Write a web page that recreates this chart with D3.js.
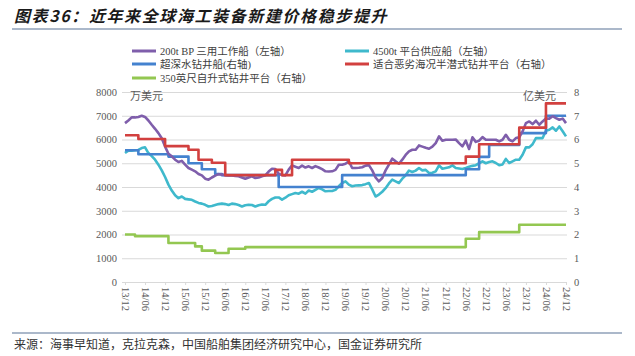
<!DOCTYPE html>
<html><head><meta charset="utf-8">
<script src="https://cdn.jsdelivr.net/npm/d3@7"></script>
<style>body{margin:0;background:#fff}svg{display:block}</style>
</head><body><svg id="c" width="635" height="356"></svg>
<script>
// ---- data ----
const tickLabels = ["13/12","14/06","14/12","15/06","15/12","16/06","16/12","17/06","17/12","18/06","18/12","19/06","19/12","20/06","20/12","21/06","21/12","22/06","22/12","23/06","23/12","24/06","24/12"];
// monthly values, Dec 2013 .. Dec 2024 (left axis, 万美元)
const ship200t = [6690,6800,6930,6930,6950,7000,6950,6800,6620,6450,
6270,6050,5700,5400,5290,5150,5050,5100,4940,4800,
4730,4660,4550,4490,4350,4310,4400,4480,4540,4520,
4500,4490,4490,4470,4450,4400,4350,4400,4450,4380,
4400,4450,4490,4650,4770,4760,4560,4500,4490,4730,
4910,4850,4800,4900,4820,4870,4800,4880,4820,4750,
4660,4650,4660,4720,4940,4940,4980,5080,4800,4800,
4810,4830,4900,4920,4700,4400,4240,4380,4700,4940,
5190,5080,4980,5150,5350,5500,5570,5570,5750,5700,
5650,5610,5700,5850,6130,5950,5990,5990,5990,6000,
5850,5710,5950,5600,6090,5900,5950,6100,5990,5990,
5990,5990,5920,5990,6200,5990,5920,6060,6090,6340,
6690,6760,6650,6790,6620,6760,6880,6880,6980,6900,
6830,6880,6690];
const ship4500t = [5430,5530,5530,5550,5560,5640,5670,5430,5300,5150,
4940,4700,4420,4100,3850,3650,3530,3600,3500,3480,
3460,3390,3330,3300,3250,3180,3200,3240,3280,3300,
3280,3240,3300,3280,3240,3180,3230,3250,3240,3180,
3230,3260,3250,3400,3500,3560,3560,3470,3550,3650,
3700,3750,3720,3800,3720,3850,3800,3880,3960,3900,
3820,3830,3830,3880,4030,4170,4240,4100,4030,4060,
4070,4080,4120,4170,3900,3600,3680,3800,3950,4150,
4310,4240,4170,4350,4490,4690,4630,4690,4800,4700,
4720,4590,4600,4660,4910,4770,4800,4830,4910,4800,
4780,4760,4800,4850,4890,4920,5000,5080,5000,5050,
5080,5010,4920,4950,5180,5010,5080,5150,5150,5360,
5670,5670,5800,6060,6060,6060,6370,6410,6510,6370,
6550,6350,6130];
// step series (right axis, 亿美元): [month index from 13/12, value]
const drillship = [[0,5.55],[4,5.38],[13,5.28],[19,5.0],[23,4.75],[27,4.55],[29,4.5],[46,4.0],[65,4.5],[102,4.75],[106,5.27],[109,5.77],[118,6.27],[126,7.0],[132,7.0]];
const semisub = [[0,6.18],[4,6.02],[12,5.72],[19,5.57],[22,5.15],[26,5.02],[30,4.5],[45,4.72],[47,4.5],[50,5.15],[67,5.0],[102,5.28],[106,5.8],[118,6.5],[126,7.52],[132,7.52]];
const jackup = [[0,2.0],[3,1.93],[13,1.64],[21,1.5],[23,1.32],[27,1.22],[31,1.4],[36,1.47],[102,1.82],[106,2.1],[118,2.41],[132,2.41]];
const leftTicks = [0,1000,2000,3000,4000,5000,6000,7000,8000];
const rightTicks = [0,1,2,3,4,5,6,7,8];
const seriesNames = ["200t BP 三用工作船（左轴）","4500t 平台供应船（左轴）","超深水钻井船(右轴)","适合恶劣海况半潜式钻井平台（右轴）","350英尺自升式钻井平台（右轴）"];
const colors = ["#7F5EAB","#3FB9CC","#4482CF","#D2403F","#93C751"];

// ---- chart ----
const svg = d3.select("#c");
const serif = "'Liberation Serif','Noto Sans CJK SC',serif";
const x = d3.scaleLinear().domain([0,132]).range([125,566]);
const yL = d3.scaleLinear().domain([0,8000]).range([282,92]);
const yR = d3.scaleLinear().domain([0,8]).range([282,92]);

// title
svg.append("text").attr("x",14).attr("y",21.5)
  .attr("font-family","'Noto Sans CJK SC',sans-serif").attr("font-size",16)
  .attr("font-style","italic").attr("font-weight","bold").attr("letter-spacing",1.6)
  .attr("fill","#1a1a1a").text("图表36：近年来全球海工装备新建价格稳步提升");
svg.append("line").attr("x1",12).attr("x2",622).attr("y1",29).attr("y2",29)
  .attr("stroke","#8FA0B8").attr("stroke-width",1.5);
svg.append("line").attr("x1",12).attr("x2",622).attr("y1",333).attr("y2",333)
  .attr("stroke","#8FA0B8").attr("stroke-width",1.5);
svg.append("text").attr("x",14).attr("y",348.5)
  .attr("font-family","'Noto Sans CJK SC',sans-serif").attr("font-size",12)
  .attr("fill","#333").text("来源：海事早知道，克拉克森，中国船舶集团经济研究中心，国金证券研究所");

// gridlines
svg.append("g").selectAll("line").data(leftTicks).join("line")
  .attr("x1",122).attr("x2",567).attr("y1",d=>yL(d)+0.5).attr("y2",d=>yL(d)+0.5)
  .attr("stroke","#D9D9D9").attr("stroke-width",1);

// axes
const gL = svg.append("g").attr("transform","translate(121,0)")
  .call(d3.axisLeft(yL).tickValues(leftTicks).tickFormat(d3.format("d")).tickSize(0).tickPadding(4));
gL.select(".domain").remove();
gL.selectAll("text").attr("font-family",serif).attr("font-size",10.5).attr("fill","#595959");

const gR = svg.append("g").attr("transform","translate(566,0)")
  .call(d3.axisRight(yR).tickValues(rightTicks).tickFormat(d3.format("d")).tickSize(0).tickPadding(8));
gR.select(".domain").remove();
gR.selectAll("text").attr("font-family",serif).attr("font-size",10.5).attr("fill","#595959");

const gX = svg.append("g").attr("transform","translate(0,282)")
  .call(d3.axisBottom(x).tickValues(tickLabels.map((d,i)=>i*6)).tickFormat((d,i)=>tickLabels[i]).tickSize(3));
gX.select(".domain").attr("stroke","#D9D9D9");
gX.selectAll(".tick line").attr("stroke","#D9D9D9");
gX.selectAll("text").attr("font-family",serif).attr("font-size",10.5).attr("fill","#595959")
  .attr("transform","rotate(90)").attr("x",5).attr("y",0).attr("dy","0.35em").attr("text-anchor","start");

// unit labels
svg.append("text").attr("x",130).attr("y",100).attr("font-family","'Noto Sans CJK SC',sans-serif")
  .attr("font-size",11).attr("fill","#595959").text("万美元");
svg.append("text").attr("x",523).attr("y",100).attr("font-family","'Noto Sans CJK SC',sans-serif")
  .attr("font-size",11).attr("fill","#595959").text("亿美元");

// lines
const lineL = d3.line().x((d,i)=>x(i)).y(d=>yL(d));
const stepR = d3.line().x(d=>x(d[0])).y(d=>yR(d[1])).curve(d3.curveStepAfter);
const draw = (pathD,c)=>svg.append("path").attr("d",pathD).attr("fill","none")
  .attr("stroke",c).attr("stroke-width",2.6).attr("stroke-linejoin","round");
draw(stepR(jackup),colors[4]);
draw(lineL(ship4500t),colors[1]);
draw(stepR(drillship),colors[2]);
draw(lineL(ship200t),colors[0]);
draw(stepR(semisub),colors[3]);

// legend
const legendPos = [[132,51],[345,51],[132,64],[345,64],[132,78]];
const lg = svg.append("g");
seriesNames.forEach((n,i)=>{
  const [lx,ly] = legendPos[i];
  lg.append("line").attr("x1",lx).attr("x2",lx+24).attr("y1",ly).attr("y2",ly)
    .attr("stroke",colors[i]).attr("stroke-width",3);
  lg.append("text").attr("x",lx+28).attr("y",ly).attr("dy","0.35em")
    .attr("font-family",serif).attr("font-size",10.5).attr("fill","#404040").text(n);
});
</script>
</body></html>
